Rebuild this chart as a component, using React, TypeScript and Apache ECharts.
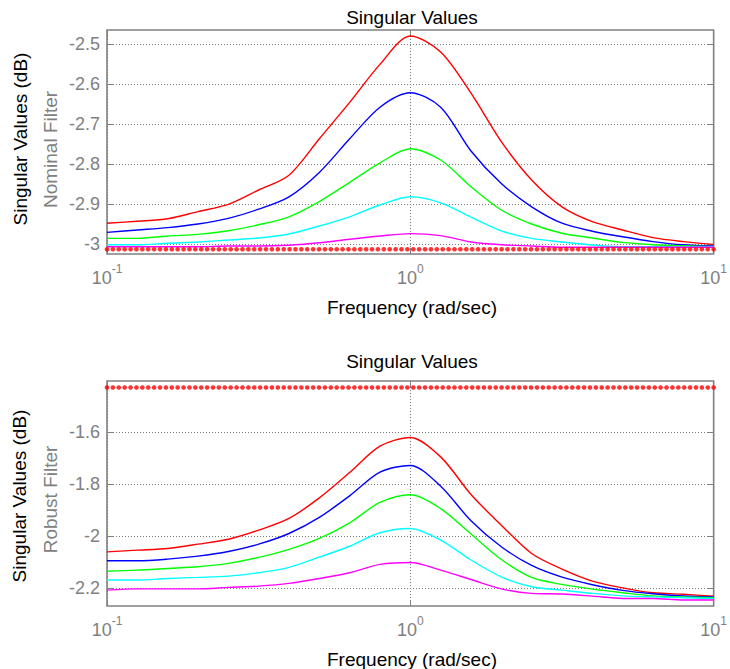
import React, { useEffect, useRef } from "react";
import * as echarts from "echarts";

// Frequency grid (rad/sec)
const FREQ = [0.1, 0.1259, 0.1585, 0.1995, 0.2512, 0.3162, 0.3981, 0.5012, 0.631, 0.7943, 1, 1.259, 1.585, 1.995, 2.512, 3.162, 3.981, 5.012, 6.31, 7.943, 10];

// Nominal filter singular values (dB)
const NOM_RED = [-2.948, -2.943, -2.937, -2.919, -2.901, -2.865, -2.828, -2.737, -2.646, -2.551, -2.48, -2.52, -2.623, -2.744, -2.84, -2.907, -2.944, -2.965, -2.984, -2.994, -3.001];
const NOM_BLUE = [-2.971, -2.965, -2.959, -2.95, -2.936, -2.913, -2.882, -2.821, -2.737, -2.658, -2.622, -2.658, -2.7675, -2.849, -2.907, -2.948, -2.968, -2.982, -2.994, -3.002, -3.005];
const NOM_GREEN = [-2.986, -2.986, -2.98, -2.976, -2.967, -2.952, -2.932, -2.894, -2.846, -2.797, -2.762, -2.79, -2.857, -2.915, -2.95, -2.973, -2.985, -2.996, -3.002, -3.004, -3.007];
const NOM_CYAN = [-3.002, -3.002, -2.998, -2.995, -2.99, -2.985, -2.975, -2.955, -2.932, -2.9025, -2.882, -2.897, -2.933, -2.967, -2.986, -2.995, -3.0025, -3.007, -3.007, -3.007, -3.007];
const NOM_MAGENTA = [-3.007, -3.007, -3.007, -3.007, -3.005, -3.005, -3.003, -2.997, -2.988, -2.98, -2.974, -2.979, -2.995, -3.002, -3.005, -3.008, -3.008, -3.008, -3.008, -3.008, -3.008];
const NOM_BOUND = -3.013;

// Robust filter singular values (dB)
const ROB_RED = [-2.0615, -2.055, -2.0485, -2.032, -2.013, -1.978, -1.933, -1.854, -1.756, -1.655, -1.6215, -1.696, -1.841, -1.959, -2.068, -2.128, -2.174, -2.2, -2.219, -2.225, -2.232];
const ROB_BLUE = [-2.096, -2.096, -2.0896, -2.078, -2.06, -2.032, -1.991, -1.929, -1.846, -1.755, -1.729, -1.809, -1.942, -2.042, -2.114, -2.159, -2.188, -2.21, -2.223, -2.231, -2.235];
const ROB_GREEN = [-2.136, -2.132, -2.1255, -2.119, -2.106, -2.083, -2.052, -2.01, -1.95, -1.8715, -1.842, -1.895, -1.993, -2.091, -2.16, -2.187, -2.205, -2.219, -2.231, -2.235, -2.238];
const ROB_CYAN = [-2.17, -2.17, -2.164, -2.16, -2.155, -2.142, -2.1215, -2.082, -2.04, -1.988, -1.9715, -2.0165, -2.093, -2.158, -2.196, -2.209, -2.2215, -2.231, -2.235, -2.238, -2.241];
const ROB_MAGENTA = [-2.209, -2.204, -2.204, -2.204, -2.1985, -2.1935, -2.183, -2.164, -2.142, -2.11, -2.1025, -2.132, -2.168, -2.204, -2.2215, -2.224, -2.232, -2.241, -2.241, -2.247, -2.247];
const ROB_BOUND = -1.429;

// Axis ticks
const NOM_TICKS = [-3, -2.9, -2.8, -2.7, -2.6, -2.5];
const ROB_TICKS = [-2.2, -2, -1.8, -1.6];
const NOM_RANGE = [-3.025, -2.465];
const ROB_RANGE = [-2.27, -1.404];
const FREQ_RANGE = [0.1, 10];
const BOUND_POINTS = 104;

const COLORS = ["#ff0000", "#0000ff", "#00ff00", "#00ffff", "#ff00ff"];
const FONT = "'Liberation Sans', Arial, Helvetica, sans-serif";
const GRAY = "#808080";

export default function App() {
  const ref = useRef<HTMLDivElement>(null);
  useEffect(() => {
    if (!ref.current) return;
    const chart = echarts.init(ref.current, null, { renderer: "svg" });

    const pairs = (vals: number[]) => FREQ.map((f, i) => [f, vals[i]]);
    const boundFreq: number[] = [];
    for (let i = 0; i < BOUND_POINTS; i++) {
      boundFreq.push(Math.pow(10, -1 + (2 * i) / (BOUND_POINTS - 1)));
    }
    const bound = (v: number) => boundFreq.map((f) => [f, v]);

    const grids = [
      { left: 107, top: 30, width: 610, height: 224 },
      { left: 107, top: 381, width: 610, height: 225 },
    ].map((g) => ({ ...g, show: true, borderColor: GRAY, borderWidth: 1.6, backgroundColor: "transparent" }));

    const xAxisBottom = (gridIndex: number) => ({
      type: "log",
      logBase: 10,
      gridIndex,
      min: FREQ_RANGE[0],
      max: FREQ_RANGE[1],
      position: "bottom",
      axisLine: { show: false },
      axisTick: { show: true, inside: true, length: 6, lineStyle: { color: GRAY } },
      splitLine: { show: true, lineStyle: { color: "#7a7a7a", type: [1, 2], width: 1 } },
      axisLabel: {
        margin: 9,
        formatter: (v: number) => `{b|10}{s|${Math.round(Math.log10(v))}}`,
        rich: {
          b: { fontSize: 18, fontFamily: FONT, color: GRAY, lineHeight: 24, verticalAlign: "bottom" },
          s: { fontSize: 12, fontFamily: FONT, color: GRAY, lineHeight: 24, verticalAlign: "top" },
        },
      },
    });
    const xAxisTop = (gridIndex: number) => ({
      type: "log",
      logBase: 10,
      gridIndex,
      min: FREQ_RANGE[0],
      max: FREQ_RANGE[1],
      position: "top",
      axisLine: { show: false },
      axisTick: { show: true, inside: true, length: 6, lineStyle: { color: GRAY } },
      splitLine: { show: false },
      axisLabel: { show: false },
    });
    const yAxisLeft = (gridIndex: number, range: number[], ticks: number[]) => ({
      type: "value",
      gridIndex,
      min: range[0],
      max: range[1],
      position: "left",
      axisLine: { show: false },
      axisTick: { show: true, inside: true, length: 6, customValues: ticks, lineStyle: { color: GRAY } },
      splitLine: { show: true, lineStyle: { color: "#7a7a7a", type: [1, 2], width: 1 } },
      axisLabel: {
        customValues: ticks,
        margin: 7,
        fontSize: 18,
        fontFamily: FONT,
        color: GRAY,
        formatter: (v: number) => String(Math.round(v * 10) / 10),
      },
    });
    const yAxisRight = (gridIndex: number, range: number[], ticks: number[]) => ({
      type: "value",
      gridIndex,
      min: range[0],
      max: range[1],
      position: "right",
      axisLine: { show: false },
      axisTick: { show: true, inside: true, length: 6, customValues: ticks, lineStyle: { color: GRAY } },
      splitLine: { show: false },
      axisLabel: { show: false },
    });

    const lineSeries = (arrs: number[][], xi: number, yi: number) =>
      arrs.map((a, k) => ({
        type: "line",
        xAxisIndex: xi,
        yAxisIndex: yi,
        data: pairs(a),
        showSymbol: false,
        symbol: "none",
        smooth: 0.3,
        lineStyle: { color: COLORS[k], width: 1.4 },
        z: 3,
      }));

    const boundSeries = (v: number, xi: number, yi: number) => ({
      type: "scatter",
      xAxisIndex: xi,
      yAxisIndex: yi,
      data: bound(v),
      symbol: "circle",
      symbolSize: 4.6,
      itemStyle: { color: "#ff0000" },
      z: 4,
    });

    const title = (text: string, y: number) => ({
      type: "text",
      x: 412,
      y,
      style: { text, fontSize: 19, fontFamily: FONT, fill: "#000", textAlign: "center", textVerticalAlign: "middle" },
    });
    const vText = (text: string, x: number, y: number, fill: string) => ({
      type: "text",
      x,
      y,
      rotation: Math.PI / 2,
      style: { text, fontSize: 19, fontFamily: FONT, fill, textAlign: "center", textVerticalAlign: "middle" },
    });

    // draw red first at the back? keep MATLAB order: red drawn first, magenta last
    const nomLines = lineSeries([NOM_RED, NOM_BLUE, NOM_GREEN, NOM_CYAN, NOM_MAGENTA], 0, 0);
    const robLines = lineSeries([ROB_RED, ROB_BLUE, ROB_GREEN, ROB_CYAN, ROB_MAGENTA], 2, 2);

    chart.setOption({
      animation: false,
      backgroundColor: "#ffffff",
      grid: grids,
      xAxis: [xAxisBottom(0), xAxisTop(0), xAxisBottom(1), xAxisTop(1)],
      yAxis: [
        yAxisLeft(0, NOM_RANGE, NOM_TICKS),
        yAxisRight(0, NOM_RANGE, NOM_TICKS),
        yAxisLeft(1, ROB_RANGE, ROB_TICKS),
        yAxisRight(1, ROB_RANGE, ROB_TICKS),
      ],
      series: [
        ...nomLines,
        boundSeries(NOM_BOUND, 0, 0),
        ...robLines,
        boundSeries(ROB_BOUND, 2, 2),
      ],
      graphic: [
        title("Singular Values", 17),
        title("Frequency (rad/sec)", 307),
        title("Singular Values", 361),
        title("Frequency (rad/sec)", 659),
        vText("Singular Values (dB)", 20, 139, "#000"),
        vText("Nominal Filter", 50, 149.5, GRAY),
        vText("Singular Values (dB)", 19, 496, "#000"),
        vText("Robust Filter", 50, 499.5, GRAY),
      ],
    });
    return () => chart.dispose();
  }, []);
  return <div ref={ref} style={{ position: "absolute", left: 0, top: 0, width: 730, height: 669 }} />;
}
